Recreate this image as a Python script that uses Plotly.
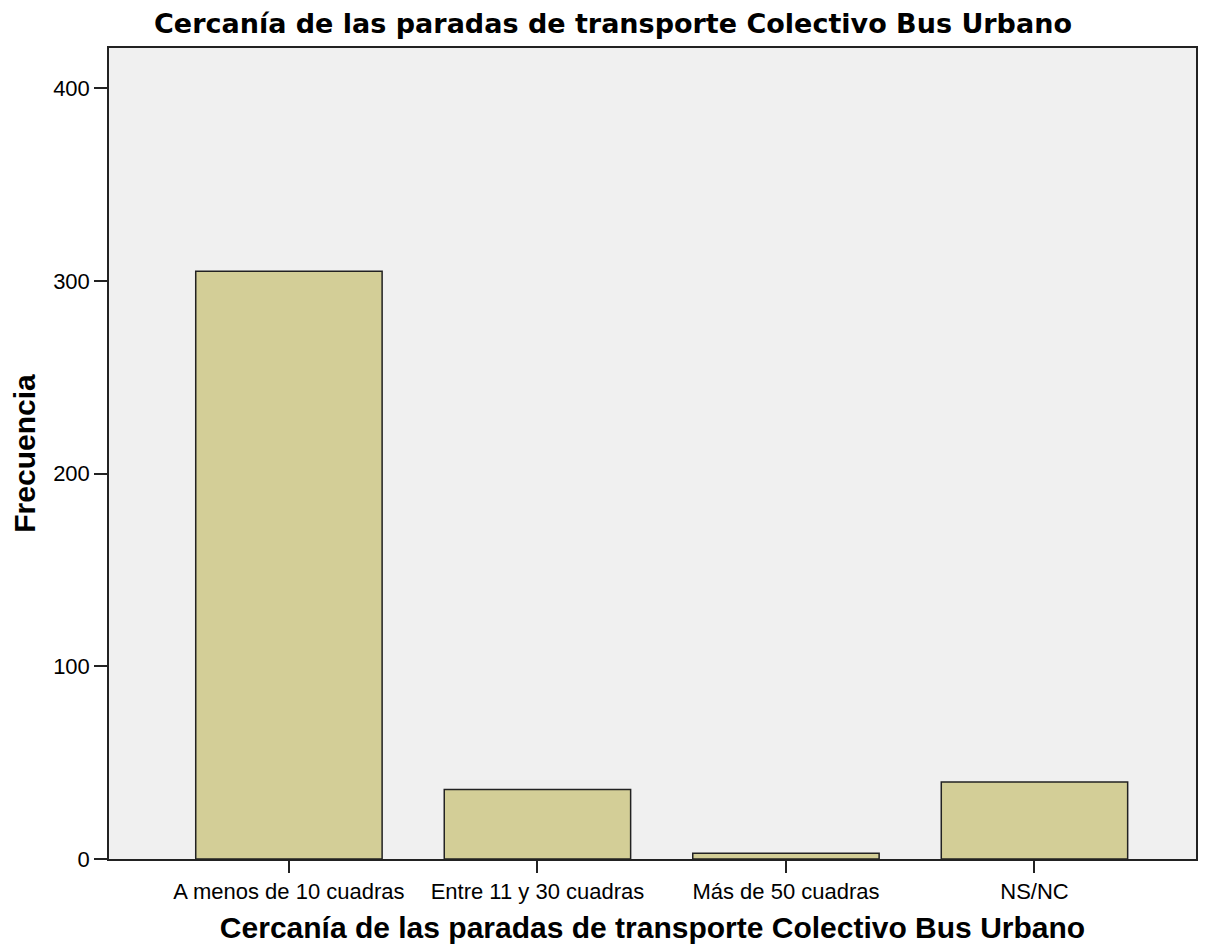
import plotly.graph_objects as go

categories = ["A menos de 10 cuadras", "Entre 11 y 30 cuadras", "Más de 50 cuadras", "NS/NC"]
frecuencia = [305, 36, 3, 40]
y_ticks = [0, 100, 200, 300, 400]

title_text = "Cercanía de las paradas de transporte Colectivo Bus Urbano"

fig = go.Figure()
fig.add_trace(go.Bar(
    x=list(range(len(categories))),
    y=frecuencia,
    width=0.75,
    marker=dict(color="#d3ce97", line=dict(color="#222222", width=1.5)),
    hoverinfo="y",
))

font_family = "Liberation Sans, Arial, sans-serif"

fig.update_layout(
    width=1210, height=944,
    margin=dict(l=101, r=22, t=40, b=93),
    paper_bgcolor="white",
    plot_bgcolor="#f0f0f0",
    showlegend=False,
    font=dict(family=font_family, color="black", size=22),
    title=dict(text="<b>" + title_text + "</b>", x=0.5, xanchor="center",
               y=1.0, yanchor="top", pad=dict(t=6, b=0),
               font=dict(size=27, family="DejaVu Sans, Liberation Sans, sans-serif")),
)
fig.update_xaxes(
    tickmode="array", tickvals=list(range(len(categories))), ticktext=categories,
    range=[-0.724, 3.65],
    showline=True, linecolor="#222222", linewidth=1.5, mirror=True,
    ticks="outside", ticklen=12, tickcolor="#222222", tickwidth=1.5,
    showgrid=False, zeroline=False,
    tickfont=dict(size=22),
    title=dict(text="<b>" + title_text + "</b>", font=dict(size=30), standoff=14),
)
fig.update_yaxes(
    tickmode="array", tickvals=y_ticks,
    range=[0, 420.8],
    showline=True, linecolor="#222222", linewidth=1.5, mirror=True,
    ticks="outside", ticklen=13, tickcolor="#222222", tickwidth=1.5,
    showgrid=False, zeroline=False,
    tickfont=dict(size=22),
    title=dict(text="<b>Frecuencia</b>", font=dict(size=30), standoff=12),
)

fig.write_html("out.html")
